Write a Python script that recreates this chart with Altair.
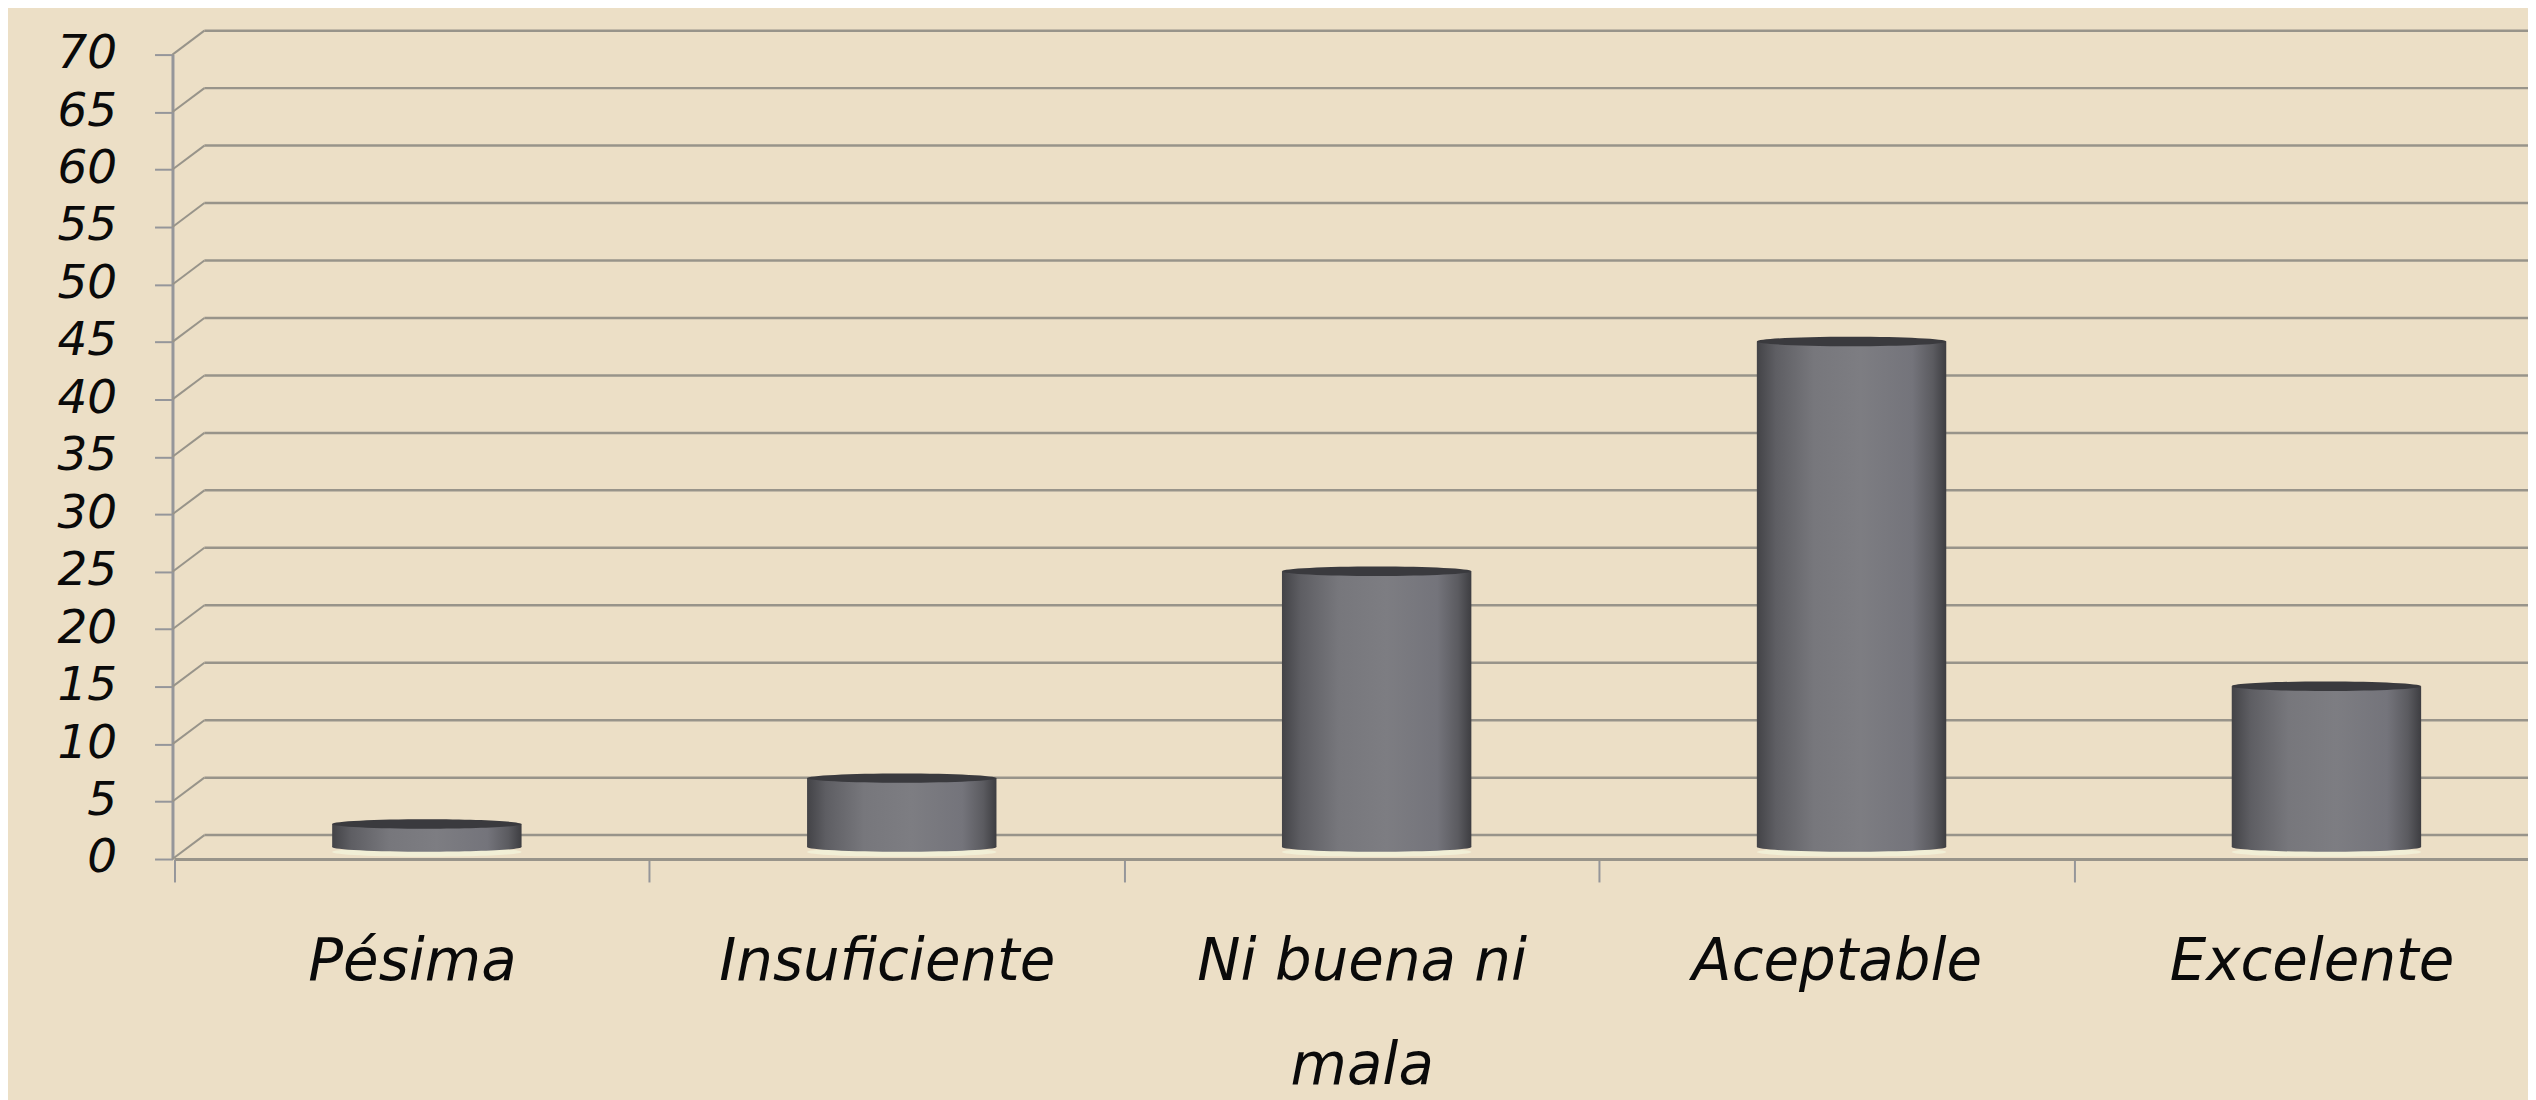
import altair as alt
import pandas as pd

categories = ["Pésima", "Insuficiente", "Ni buena ni mala", "Aceptable", "Excelente"]
values = [2, 6, 24, 44, 14]
ticks = list(range(0, 75, 5))

BG = "#ecdfc6"
GRID = "#98948a"
AXIS = "#95969a"
INK = "#0a0a0a"
# depth of the 3-D floor, px
DX, DY = 32, -24
BAR_DX, BAR_DY = 15, -12
BAR_W = 190
ELLIPSE = "M-1,0 A1,0.05 0 0,1 1,0 A1,0.05 0 0,1 -1,0 Z"
ELLIPSE_SIZE = BAR_W ** 2

df = pd.DataFrame({"cat": categories, "val": values, "zero": [0] * len(values)})
tdf = pd.DataFrame({"v": ticks})

W, H = 2363, 807
xs = alt.Scale(domain=categories, range=[2, 2384], paddingInner=0, paddingOuter=0, round=False)
ys = alt.Scale(domain=[0, 70], range=[H, 0], nice=False)

x_axis = alt.Axis(
    values=categories, orient="bottom", bandPosition=0, tickBand="extent", tickSize=23, tickWidth=2,
    tickColor=AXIS, domainColor=GRID, domainWidth=3, labelAngle=0, title=None, grid=False,
    labelFont="DejaVu Sans", labelFontStyle="italic", labelFontSize=58, labelColor=INK,
    labelPadding=81, labelLimit=600, labelLineHeight=104, labelBaseline="middle",
    labelExpr="datum.label == 'Ni buena ni mala' ? ['Ni buena ni', 'mala'] : datum.label",
)
y_axis = alt.Axis(
    values=ticks, tickSize=18, tickWidth=2, tickColor=AXIS, domainColor=AXIS, domainWidth=3,
    title=None, grid=False,
    labelFont="DejaVu Sans", labelFontStyle="italic", labelFontSize=47, labelColor=INK,
    labelPadding=38, labelBaseline="middle", labelOffset=-1,
)
X = alt.X("cat:N", scale=xs, sort=categories, axis=x_axis)

cyl = alt.Gradient(
    gradient="linear", x1=0, x2=1, y1=0, y2=0,
    stops=[
        alt.GradientStop(offset=0, color="#434347"),
        alt.GradientStop(offset=0.1, color="#5e5e63"),
        alt.GradientStop(offset=0.3, color="#77777c"),
        alt.GradientStop(offset=0.55, color="#7d7d82"),
        alt.GradientStop(offset=0.82, color="#74747b"),
        alt.GradientStop(offset=0.93, color="#5b5b60"),
        alt.GradientStop(offset=1, color="#3d3d41"),
    ],
)

wall = alt.Chart(tdf).mark_rule(color=GRID, strokeWidth=2.5, yOffset=DY).encode(
    x=alt.value(DX), x2=alt.value(W), y=alt.Y("v:Q", scale=ys, axis=y_axis)
)
side = alt.Chart(tdf).mark_rule(color=GRID, strokeWidth=2, y2Offset=DY).encode(
    x=alt.value(0), x2=alt.value(DX), y=alt.Y("v:Q", scale=ys, axis=y_axis), y2=alt.Y2("v:Q")
)
halo = alt.Chart(df).mark_point(filled=True, opacity=1, shape=ELLIPSE, size=ELLIPSE_SIZE, color="#f1efd6",
                                xOffset=BAR_DX, yOffset=BAR_DY + 5).encode(
    x=X, y=alt.Y("zero:Q", scale=ys, axis=y_axis)
)
bars = alt.Chart(df).mark_bar(fill=cyl, width=BAR_W, xOffset=BAR_DX, x2Offset=BAR_DX, yOffset=BAR_DY, y2Offset=BAR_DY).encode(
    x=X, y=alt.Y("val:Q", scale=ys, axis=y_axis)
)
bottoms = alt.Chart(df).mark_point(filled=True, opacity=1, shape=ELLIPSE, size=ELLIPSE_SIZE, fill=cyl,
                                   xOffset=BAR_DX, yOffset=BAR_DY).encode(
    x=X, y=alt.Y("zero:Q", scale=ys, axis=y_axis)
)
tops = alt.Chart(df).mark_point(filled=True, opacity=1, shape=ELLIPSE, size=ELLIPSE_SIZE, color="#3a3a3e",
                                xOffset=BAR_DX, yOffset=BAR_DY).encode(
    x=X, y=alt.Y("val:Q", scale=ys, axis=y_axis)
)

chart = (wall + side + halo + bars + bottoms + tops).properties(
    width=W, height=H, background=BG,
    padding={"left": 165, "top": 45, "right": 0, "bottom": 240},
    autosize=alt.AutoSizeParams(type="none"),
).configure_view(stroke=None)

chart.save("out.html", embed_options={"renderer": "svg", "actions": False})
